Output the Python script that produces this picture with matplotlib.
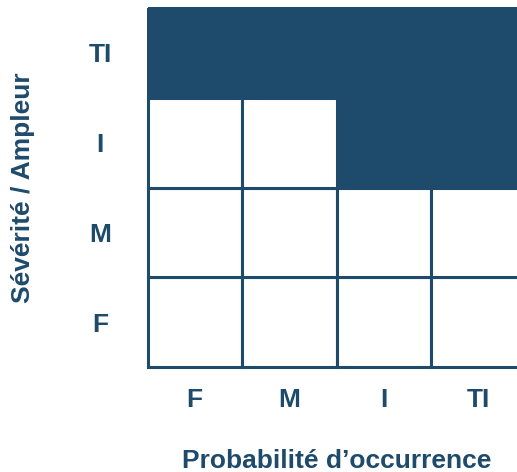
import numpy as np
import matplotlib.pyplot as plt
from matplotlib.patches import Rectangle

# Risk matrix: rows = severity (bottom to top), cols = probability
prob_labels = ["F", "M", "I", "TI"]
sev_labels = ["F", "M", "I", "TI"]
# 1 = high risk (filled), 0 = empty cell ; row 0 is the bottom row (F)
risk = np.array([
    [0, 0, 0, 0],
    [0, 0, 0, 0],
    [0, 0, 1, 1],
    [1, 1, 1, 1],
])

blue = "#1e4a6c"
plt.rcParams['font.family'] = ['Liberation Sans', 'DejaVu Sans']

W, H = 517, 472
fig = plt.figure(figsize=(W / 100, H / 100), dpi=100)
left, right, top, bottom = 147.5, 526, 8, 367
ax = fig.add_axes([left / W, (H - bottom) / H, (right - left) / W, (bottom - top) / H])

for r in range(risk.shape[0]):
    for c in range(risk.shape[1]):
        if risk[r, c]:
            ax.add_patch(Rectangle((c, r), 1, 1, facecolor=blue, edgecolor=blue,
                                   lw=1, antialiased=False, clip_on=False))
for r in range(risk.shape[0]):
    for c in range(risk.shape[1]):
        if not risk[r, c]:
            ax.add_patch(Rectangle((c, r), 1, 1, facecolor="white", edgecolor=blue,
                                   lw=2.2, clip_on=False))

ax.set_xlim(0, 4)
ax.set_ylim(0, 4)
for s in ax.spines.values():
    s.set_visible(False)
ax.set_xticks(np.arange(4) + 0.5)
ax.set_xticklabels(prob_labels)
ax.set_yticks(np.arange(4) + 0.5)
ax.set_yticklabels(sev_labels, ha="center")
ax.tick_params(length=0, labelsize=19, labelcolor=blue)
ax.tick_params(axis="x", pad=15)
ax.tick_params(axis="y", pad=34)
for t in ax.get_xticklabels() + ax.get_yticklabels():
    t.set_fontweight("bold")

fig.text((left + right) / 2 / W, 1 - 461 / H, "Probabilité d\u2019occurrence",
         ha="center", va="center", fontsize=19, fontweight="bold", color=blue)
fig.text(23 / W, 1 - 187.5 / H, "Sévérité / Ampleur", rotation=90,
         ha="center", va="center", fontsize=19, fontweight="bold", color=blue)

fig.savefig("out.png", dpi=100)
